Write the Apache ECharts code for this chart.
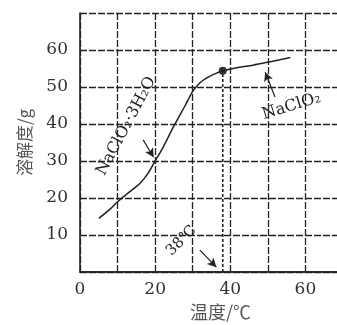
<!DOCTYPE html>
<html><head><meta charset="utf-8">
<script src="https://cdn.jsdelivr.net/npm/echarts@6/dist/echarts.min.js"></script>
<style>html,body{margin:0;padding:0;background:#fff}#c{width:337px;height:325px}</style>
</head><body><div id="c"></div>
<script>
// Data
const temps = [5, 8, 10, 13, 16, 18, 20, 22, 25, 28, 30, 32, 34, 36, 38, 42, 46, 50, 56];
const solubility = [14.5, 17, 19, 21.5, 24, 26.5, 30, 33.5, 39.5, 45, 48.8, 51.2, 52.6, 53.6, 54.4, 55.3, 55.9, 56.7, 58];
const transitionPoint = [38, 54.4];
const xTickLabels = ['0', '20', '40', '60'];
const yTickLabels = ['10', '20', '30', '40', '50', '60'];
const hydrateLabel = 'NaClO₂·3H₂O';
const anhydLabel = 'NaClO₂';
const tempLabel = '38℃';
// annotation arrows (data coordinates: from -> to)
const arrowHydrate = [[16.8, 35.7], [19.6, 31.0]];
const arrowAnhyd = [[51.9, 47.3], [49.3, 54.0]];
const arrowTemp = [[31.9, 5.9], [36.3, 1.3]];
// annotation text anchors (data coordinates)
const hydrateTextAt = [12.3, 39.4];
const anhydTextAt = [56.3, 44.8];
const tempTextAt = [27.0, 8.4];

const ink = '#222';
const serif = '"DejaVu Serif", "Liberation Serif", serif';
const chart = echarts.init(document.getElementById('c'));

const arrowLine = (pair) => [{coord: pair[0], symbol: 'none'}, {coord: pair[1], symbol: 'arrow', symbolSize: [7, 9]}];

chart.setOption({
  animation: false,
  grid: {left: 80, top: 13, width: 263, height: 259, outerBoundsMode: 'none', containLabel: false},
  xAxis: [{
    type: 'value', min: 0, max: 70, interval: 10,
    axisLine: {show: true, onZero: false, lineStyle: {color: ink, width: 1.6}},
    axisTick: {show: false},
    axisLabel: {
      margin: 9, color: '#333', fontSize: 17, fontFamily: serif,
      formatter: v => xTickLabels.includes(String(v)) ? String(v) : ''
    },
    splitLine: {show: true, lineStyle: {color: ink, width: 1.3, type: [7, 2]}},
    name: '温度/℃', nameLocation: 'middle', nameGap: 30,
    nameTextStyle: {color: '#555', fontSize: 18, fontFamily: '"Noto Sans CJK SC", sans-serif', padding: [0, 0, 0, 18]}
  }, {
    type: 'value', min: 0, max: 70, position: 'top',
    axisLine: {show: true, lineStyle: {color: ink, width: 1.6}},
    axisTick: {show: false}, axisLabel: {show: false}, splitLine: {show: false}
  }],
  yAxis: {
    type: 'value', min: 0, max: 70, interval: 10,
    axisLine: {show: true, lineStyle: {color: ink, width: 1.6}},
    axisTick: {show: false},
    axisLabel: {
      margin: 12, color: '#333', fontSize: 17, fontFamily: serif,
      formatter: v => yTickLabels.includes(String(v)) ? String(v) : ''
    },
    splitLine: {show: true, lineStyle: {color: ink, width: 1.3, type: [7, 2]}},
    name: '溶解度/g', nameLocation: 'middle', nameGap: 47, nameRotate: 90,
    nameTextStyle: {color: '#555', fontSize: 17, fontFamily: '"Noto Sans CJK SC", sans-serif'}
  },
  series: [
    {
      type: 'line', data: temps.map((t, i) => [t, solubility[i]]),
      smooth: 0.3, showSymbol: false, lineStyle: {color: ink, width: 1.5},
      markLine: {
        silent: true, animation: false, label: {show: false},
        lineStyle: {color: ink, width: 1.2, type: 'solid'},
        data: [arrowLine(arrowHydrate), arrowLine(arrowAnhyd), arrowLine(arrowTemp)]
      }
    },
    {
      type: 'line', data: [[transitionPoint[0], 0], transitionPoint],
      showSymbol: false, lineStyle: {color: ink, width: 1.6, type: [3, 2]}
    },
    {
      type: 'scatter', data: [transitionPoint], symbolSize: 8, itemStyle: {color: '#000'}
    }
  ]
});

const px = (p) => chart.convertToPixel({gridIndex: 0}, p);
const txt = (p, text, rotDeg, size) => {
  const q = px(p);
  return {
    type: 'text', x: q[0], y: q[1], rotation: rotDeg * Math.PI / 180,
    style: {text: text, fill: ink, font: size + 'px ' + serif, align: 'center', verticalAlign: 'middle'}
  };
};
chart.setOption({
  graphic: [
    txt(hydrateTextAt, hydrateLabel, 62, 16),
    txt(anhydTextAt, anhydLabel, 17, 16),
    txt(tempTextAt, tempLabel, 45, 15)
  ]
});
</script></body></html>
